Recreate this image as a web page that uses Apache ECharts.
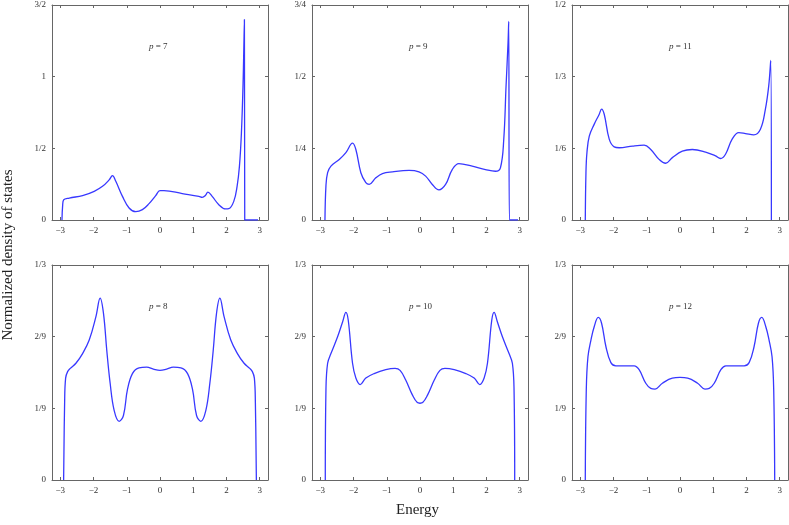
<!DOCTYPE html>
<html>
<head>
<meta charset="utf-8">
<script src="https://cdn.jsdelivr.net/npm/echarts@6/dist/echarts.min.js"></script>
<style>
  html, body { margin: 0; padding: 0; background: #fff; }
  #chart { width: 789px; height: 525px; }
</style>
</head>
<body>
<div id="chart"></div>
<script>
// energy / density values, one pair of arrays per panel
var x7 = [-2.95, -2.93, -2.9, -2.73, -2.33, -1.98, -1.73, -1.53, -1.43, -1.33, -1.13, -0.93, -0.73, -0.53, -0.33, -0.13, 0, 0.12, 0.67, 1.17, 1.27, 1.37, 1.44, 1.57, 1.77, 1.97, 2.07, 2.22, 2.32, 2.39, 2.45, 2.5, 2.54, 2.55, 2.95];
var y7 = [0, 0.1, 0.14, 0.153, 0.17, 0.2, 0.235, 0.28, 0.31, 0.27, 0.165, 0.084, 0.058, 0.072, 0.114, 0.17, 0.205, 0.205, 0.184, 0.165, 0.158, 0.172, 0.195, 0.165, 0.107, 0.077, 0.079, 0.13, 0.235, 0.374, 0.607, 0.956, 1.398, 0, 0];

var x9 = [-2.86, -2.83, -2.78, -2.68, -2.43, -2.23, -2.03, -1.93, -1.78, -1.63, -1.53, -1.33, -1.13, -0.83, -0.33, -0.03, 0.17, 0.37, 0.57, 0.77, 0.97, 1.17, 1.57, 1.97, 2.27, 2.42, 2.52, 2.59, 2.65, 2.67, 2.69, 2.95];
var y9 = [0, 0.12, 0.165, 0.188, 0.211, 0.235, 0.268, 0.246, 0.165, 0.13, 0.124, 0.147, 0.162, 0.168, 0.173, 0.168, 0.153, 0.124, 0.105, 0.124, 0.176, 0.197, 0.188, 0.176, 0.17, 0.182, 0.28, 0.468, 0.62, 0.693, 0, 0];

var x11 = [-2.85, -2.83, -2.8, -2.73, -2.58, -2.43, -2.36, -2.28, -2.13, -1.98, -1.83, -1.43, -1.08, -0.88, -0.63, -0.43, -0.23, 0.07, 0.37, 0.77, 1.07, 1.22, 1.37, 1.57, 1.77, 1.97, 2.22, 2.42, 2.57, 2.67, 2.73, 2.75];
var y11 = [0, 0.11, 0.157, 0.195, 0.223, 0.246, 0.258, 0.246, 0.188, 0.17, 0.168, 0.172, 0.174, 0.164, 0.141, 0.132, 0.145, 0.16, 0.164, 0.158, 0.149, 0.143, 0.153, 0.188, 0.203, 0.201, 0.198, 0.211, 0.258, 0.312, 0.371, 0];

var x8 = [-2.9, -2.87, -2.84, -2.78, -2.7, -2.53, -2.33, -2.13, -1.93, -1.8, -1.7, -1.6, -1.5, -1.38, -1.23, -1.1, -0.98, -0.83, -0.63, -0.4, -0.2, 0, 0.2, 0.4, 0.63, 0.83, 0.98, 1.1, 1.23, 1.38, 1.5, 1.6, 1.7, 1.8, 1.93, 2.13, 2.33, 2.53, 2.7, 2.78, 2.84, 2.87, 2.9];
var y8 = [0, 0.12, 0.158, 0.168, 0.173, 0.181, 0.196, 0.217, 0.253, 0.282, 0.258, 0.2, 0.15, 0.108, 0.091, 0.1, 0.14, 0.165, 0.174, 0.175, 0.172, 0.170, 0.172, 0.175, 0.174, 0.165, 0.14, 0.1, 0.091, 0.108, 0.15, 0.2, 0.258, 0.282, 0.253, 0.217, 0.196, 0.181, 0.173, 0.168, 0.158, 0.12, 0];

var x10 = [-2.85, -2.83, -2.78, -2.68, -2.48, -2.33, -2.23, -2.16, -2.03, -1.93, -1.8, -1.63, -1.38, -1.03, -0.75, -0.6, -0.43, -0.23, -0.08, 0, 0.08, 0.23, 0.43, 0.6, 0.75, 1.03, 1.38, 1.63, 1.8, 1.93, 2.03, 2.16, 2.23, 2.33, 2.48, 2.68, 2.78, 2.83, 2.85];
var y10 = [0, 0.14, 0.181, 0.196, 0.222, 0.245, 0.26, 0.248, 0.181, 0.158, 0.148, 0.158, 0.165, 0.171, 0.173, 0.17, 0.155, 0.132, 0.12, 0.119, 0.12, 0.132, 0.155, 0.17, 0.173, 0.171, 0.165, 0.158, 0.148, 0.158, 0.181, 0.248, 0.26, 0.245, 0.222, 0.196, 0.181, 0.14, 0];

var x12 = [-2.85, -2.82, -2.77, -2.68, -2.58, -2.46, -2.36, -2.23, -2.08, -1.93, -1.63, -1.38, -1.23, -1.03, -0.88, -0.75, -0.53, -0.23, 0, 0.23, 0.53, 0.75, 0.88, 1.03, 1.23, 1.38, 1.63, 1.93, 2.08, 2.23, 2.36, 2.46, 2.58, 2.68, 2.77, 2.82, 2.85];
var y12 = [0, 0.14, 0.191, 0.217, 0.238, 0.252, 0.243, 0.207, 0.182, 0.177, 0.177, 0.177, 0.171, 0.15, 0.142, 0.141, 0.15, 0.158, 0.159, 0.158, 0.15, 0.141, 0.142, 0.15, 0.171, 0.177, 0.177, 0.177, 0.182, 0.207, 0.243, 0.252, 0.238, 0.217, 0.191, 0.14, 0];

var panelNames = ['7', '9', '11', '8', '10', '12'];
var yMax = [1.5, 0.75, 0.5, 1 / 3, 1 / 3, 1 / 3];
var yTickLabels = [
  ['0', '1/2', '1', '3/2'],
  ['0', '1/4', '1/2', '3/4'],
  ['0', '1/6', '1/3', '1/2'],
  ['0', '1/9', '2/9', '1/3'],
  ['0', '1/9', '2/9', '1/3'],
  ['0', '1/9', '2/9', '1/3']
];
var xs = [x7, x9, x11, x8, x10, x12];
var ys = [y7, y9, y11, y8, y10, y12];

var font = '"Liberation Serif", "DejaVu Serif", serif';
var frame = '#666';
var lefts = [52, 312, 572];
var tops = [5, 265];

var grids = [], xAxes = [], yAxes = [], series = [], texts = [];

for (var i = 0; i < 6; i++) {
  var col = i % 3, row = Math.floor(i / 3);
  grids.push({ left: lefts[col], top: tops[row], width: 216, height: 215 });
  var labels = yTickLabels[i];
  var step = yMax[i] / 3;

  // bottom x axis with labels, top one only for the mirrored ticks
  xAxes.push({
    type: 'value', gridIndex: i, min: -3.25, max: 3.25, position: 'bottom',
    axisLine: { onZero: false, lineStyle: { color: frame, width: 1 } },
    axisTick: { inside: true, length: 3, lineStyle: { color: frame } },
    splitLine: { show: false },
    axisLabel: {
      showMinLabel: false, showMaxLabel: false, margin: 6,
      fontFamily: font, fontSize: 9, color: '#333',
      formatter: function (v) {
        if (Math.abs(v - Math.round(v)) > 1e-6) return '';
        return String(Math.round(v)).replace('-', '\u2212');
      }
    }
  });
  xAxes.push({
    type: 'value', gridIndex: i, min: -3.25, max: 3.25, position: 'top',
    axisLine: { onZero: false, lineStyle: { color: frame, width: 1 } },
    axisTick: { inside: true, length: 3, lineStyle: { color: frame } },
    splitLine: { show: false },
    axisLabel: { show: false }
  });
  yAxes.push({
    type: 'value', gridIndex: i, min: 0, max: yMax[i], interval: step, position: 'left',
    axisLine: { show: true, onZero: false, lineStyle: { color: frame, width: 1 } },
    axisTick: { show: true, inside: true, length: 3, lineStyle: { color: frame } },
    splitLine: { show: false },
    axisLabel: {
      margin: 6, fontFamily: font, fontSize: 9, color: '#333',
      formatter: (function (lab, st) {
        return function (v) { return lab[Math.round(v / st)] || ''; };
      })(labels, step)
    }
  });
  yAxes.push({
    type: 'value', gridIndex: i, min: 0, max: yMax[i], interval: step, position: 'right',
    axisLine: { show: true, onZero: false, lineStyle: { color: frame, width: 1 } },
    axisTick: { show: true, inside: true, length: 3, lineStyle: { color: frame } },
    splitLine: { show: false },
    axisLabel: { show: false }
  });

  var pts = [];
  for (var k = 0; k < xs[i].length; k++) pts.push([xs[i][k], ys[i][k]]);
  series.push({
    type: 'line', xAxisIndex: 2 * i, yAxisIndex: 2 * i, data: pts,
    showSymbol: false, smooth: 0.4,
    lineStyle: { color: '#3838ff', width: 1.3 }, z: 3
  });

  texts.push({
    type: 'text', left: lefts[col] + 97, top: tops[row] + 37,
    style: {
      text: '{i|p} = ' + panelNames[i],
      font: '9px ' + font, fill: '#333',
      rich: { i: { fontStyle: 'italic', fontFamily: font, fontSize: 9, fill: '#333' } }
    }
  });
}

texts.push({
  type: 'text', left: 396, top: 503,
  style: { text: 'Energy', font: '15px ' + font, fill: '#222' }
});
texts.push({
  type: 'text', x: 16, y: 255, rotation: Math.PI / 2,
  style: { text: 'Normalized density of states', font: '15px ' + font, fill: '#222', align: 'center', verticalAlign: 'bottom' }
});

var chart = echarts.init(document.getElementById('chart'));
chart.setOption({
  animation: false,
  backgroundColor: '#fff',
  grid: grids,
  xAxis: xAxes,
  yAxis: yAxes,
  series: series,
  graphic: texts
});
</script>
</body>
</html>
